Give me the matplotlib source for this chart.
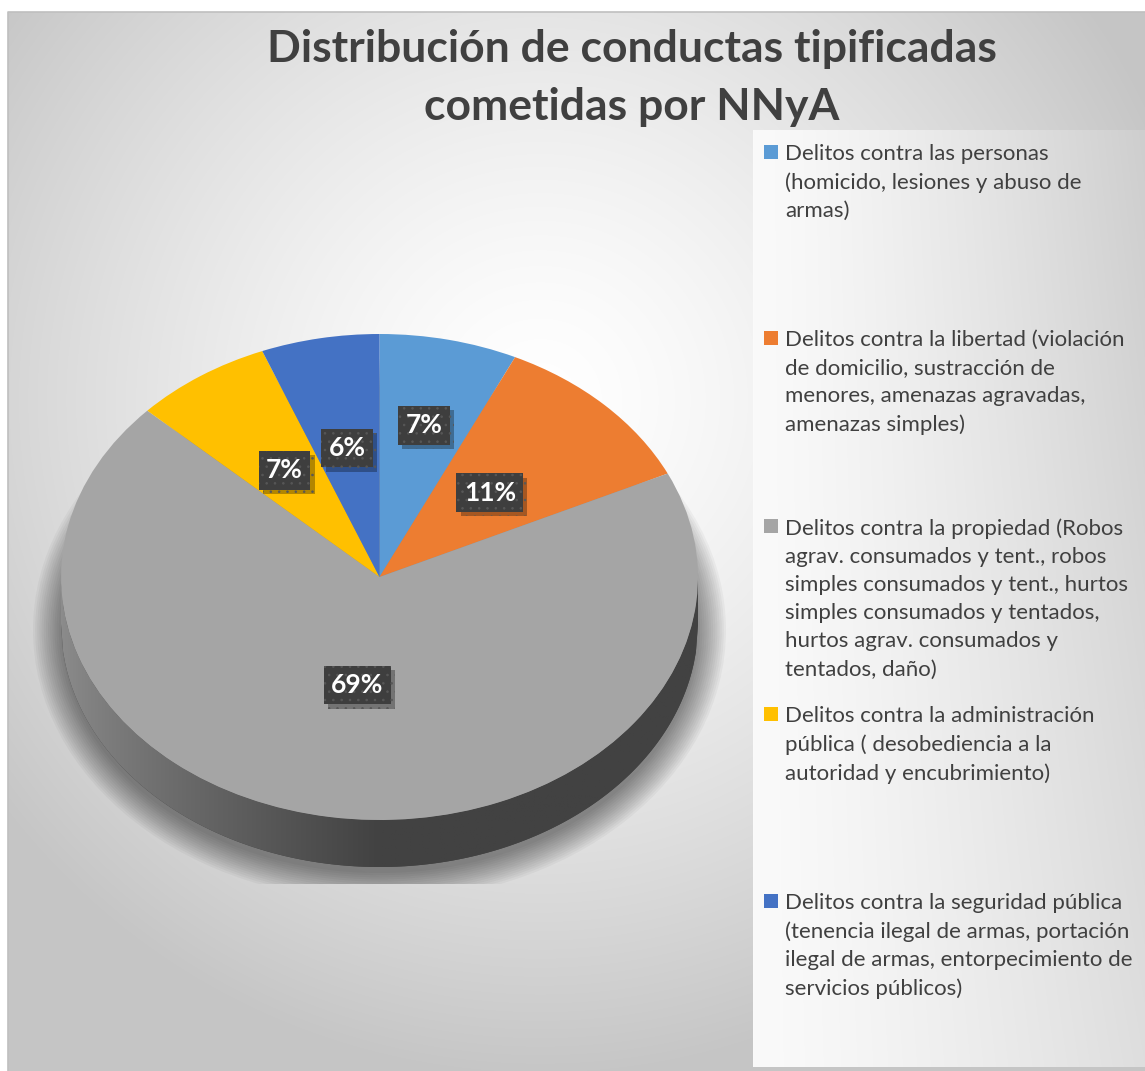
import numpy as np
import matplotlib
matplotlib.use("Agg")
import matplotlib.pyplot as plt
from matplotlib.patches import Polygon, Ellipse, Rectangle
from matplotlib.patheffects import SimplePatchShadow, Normal

# ---- data -------------------------------------------------------------
CATEGORIES = [
    "Delitos contra las personas\n(homicido, lesiones y abuso de\narmas)",
    "Delitos contra la libertad (violación\nde domicilio, sustracción de\nmenores, amenazas agravadas,\namenazas simples)",
    "Delitos contra la propiedad (Robos\nagrav. consumados y tent., robos\nsimples consumados y tent., hurtos\nsimples consumados y tentados,\nhurtos agrav. consumados y\ntentados, daño)",
    "Delitos contra la administración\npública ( desobediencia a la\nautoridad y encubrimiento)",
    "Delitos contra la seguridad pública\n(tenencia ilegal de armas, portación\nilegal de armas, entorpecimiento de\nservicios públicos)",
]
VALUES = [7, 11, 69, 7, 6]
COLORS = ["#5B9BD5", "#ED7D31", "#A5A5A5", "#FFC000", "#4472C4"]
TITLE = "Distribución de conductas tipificadas\ncometidas por NNyA"

# label distance from centre (fraction of radius), per slice
LABEL_R = [0.64, 0.49, 0.45, 0.53, 0.54]

W, H = 1145, 1071
FONT = "Lato"
TXT = "#404040"


def fx(px):
    return px / W


def fy(py):
    return 1 - py / H


fig = plt.figure(figsize=(W / 100, H / 100), dpi=100)

# ---- background -------------------------------------------------------
bg_ax = fig.add_axes([0, 0, 1, 1], zorder=-10)
yy, xx = np.mgrid[0:H, 0:W]
d = np.hypot(xx - 540, yy - 400) / 680
g = 255 - 58 * np.clip(d, 0, 1) ** 1.4
leg = (xx >= 753) & (yy >= 130) & (yy <= 1066)
lg = 250 - (44 - 16 * (yy - 130) / 936) * np.clip((xx - 753) / 392, 0, 1) ** 1.3
g = np.where(leg, lg, g)
g = np.where((xx < 8) | (yy < 12), 255, g)
bg_ax.imshow(np.dstack([g, g, g]) / 255, extent=(0, W, H, 0), aspect="auto")
bg_ax.plot([8, 8, W], [H, 12, 12], color="#bfbfbf", lw=1.2)
bg_ax.set_xlim(0, W)
bg_ax.set_ylim(H, 0)
bg_ax.axis("off")

# ---- pie (tilted: ellipse via non-equal aspect) -----------------------
cx, cy, rx, ry = 379.5, 577, 318.5, 243
depth = 47 / ry
x_lo, x_hi, y_lo, y_hi = -1.1, 1.1, -(884 - cy) / ry, 1.05
ax = fig.add_axes([
    fx(cx + x_lo * rx), 1 - (cy - y_lo * ry) / H,
    (x_hi - x_lo) * rx / W, (y_hi - y_lo) * ry / H,
])
ax.patch.set_alpha(0)

wedges, _ = ax.pie(VALUES, colors=COLORS, startangle=90, counterclock=False,
                   radius=1, wedgeprops=dict(linewidth=0, zorder=5))
ax.set_aspect("auto")
ax.axis("off")

# soft shadow under the disc
for k in np.linspace(28, 0, 14):
    ax.add_patch(Ellipse((0, -depth - 6 / ry), 2 + 2 * k / rx, 2 + 2 * k / ry,
                         facecolor="black", edgecolor="none", alpha=0.035, zorder=1))

# side band
xs = np.linspace(-1, 1, 300)
top = -np.sqrt(np.clip(1 - xs ** 2, 0, None))
verts = np.vstack([np.column_stack([xs, top]),
                   np.column_stack([xs[::-1], top[::-1] - depth])])
side = Polygon(verts, closed=True, facecolor="#424242", edgecolor="none", zorder=3)
ax.add_patch(side)
grad = np.clip((xs + 1) / 1.0, 0, 1)
shade = (0x8c - (0x8c - 0x42) * grad ** 0.8) / 255
strip = np.repeat(np.dstack([shade, shade, shade]), 2, axis=0)
im = ax.imshow(strip, extent=(-1, 1, -1 - depth - 0.01, 0.0), aspect="auto", zorder=4)
im.set_clip_path(side)
ax.set_aspect("auto")
ax.set_xlim(x_lo, x_hi)
ax.set_ylim(y_lo, y_hi)

# data labels
plt.rcParams["hatch.linewidth"] = 0.6
for w, v, r in zip(wedges, VALUES, LABEL_R):
    mid = np.deg2rad((w.theta1 + w.theta2) / 2)
    t = ax.text(r * np.cos(mid), r * np.sin(mid), f"{v}%", ha="center", va="center",
                color="white", fontsize=19, fontweight="bold", family=FONT, zorder=10,
                bbox=dict(boxstyle="square,pad=0.28", facecolor="#3e3e3e",
                          edgecolor="#575757", linewidth=0, hatch=".."))
    t.get_bbox_patch().set_path_effects(
        [SimplePatchShadow(offset=(3, -3), shadow_rgbFace="black", alpha=0.3), Normal()])

# ---- title ------------------------------------------------------------
fig.text(fx(632), fy(78), TITLE, ha="center", va="center", fontsize=32,
         fontweight="bold", color=TXT, family=FONT, linespacing=1.56)

# ---- legend (equal slots, top aligned) --------------------------------
first_line = [152, 338, 526, 714, 901]
for lab, col, yc in zip(CATEGORIES, COLORS, first_line):
    fig.patches.append(Rectangle((fx(764), fy(yc + 7)), 14 / W, 14 / H,
                                 transform=fig.transFigure, facecolor=col,
                                 edgecolor="none"))
    fig.text(fx(785), fy(yc - 8), lab, ha="left", va="top", fontsize=16,
             color=TXT, family=FONT, linespacing=1.51)

fig.savefig("out.png", dpi=100)
